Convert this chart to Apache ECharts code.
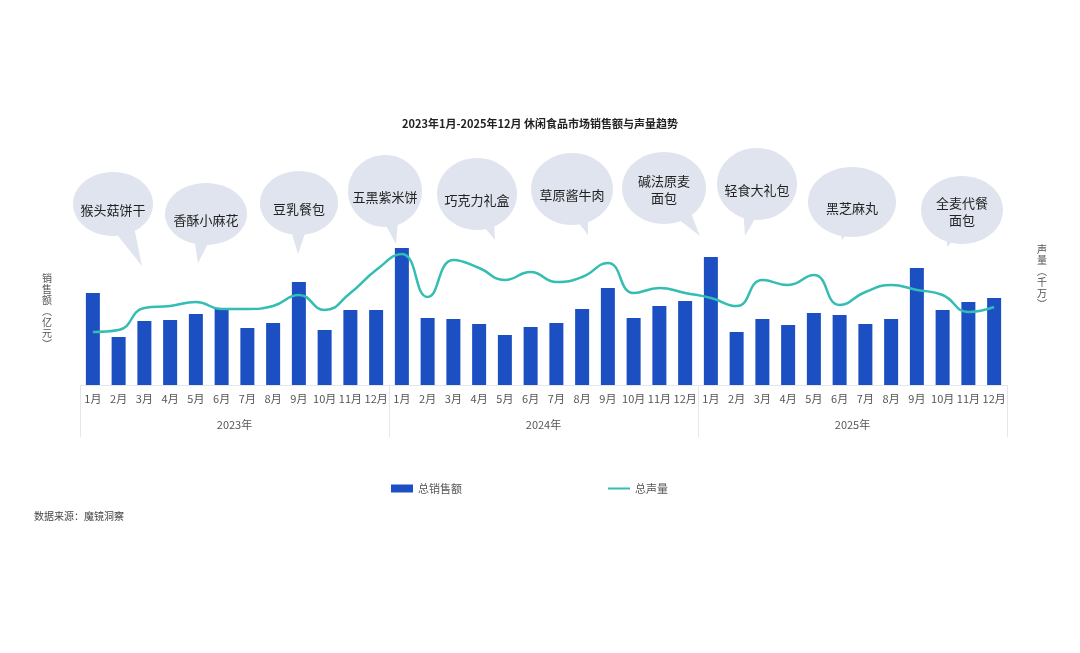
<!DOCTYPE html>
<html>
<head>
    <meta charset="utf-8">
    <title>休闲食品市场销售额与声量趋势</title>
    <script src="https://cdn.jsdelivr.net/npm/echarts@6.0.0/dist/echarts.min.js"></script>
    <style>
        html, body { margin: 0; padding: 0; background: #fff; }
        #main { width: 1080px; height: 653px; }
    </style>
</head>
<body>
<div id="main"></div>
<script type="text/javascript">
    // 月份 / 年份
    var months = ['1月','2月','3月','4月','5月','6月','7月','8月','9月','10月','11月','12月',
                  '1月','2月','3月','4月','5月','6月','7月','8月','9月','10月','11月','12月',
                  '1月','2月','3月','4月','5月','6月','7月','8月','9月','10月','11月','12月'];
    var years = ['2023年', '2024年', '2025年'];

    // 总销售额（亿元），读图估算
    var sales = [92, 48, 64, 65, 71, 76, 57, 62, 103, 55, 75, 75,
                 137, 67, 66, 61, 50, 58, 62, 76, 97, 67, 79, 84,
                 128, 53, 66, 60, 72, 70, 61, 66, 117, 75, 83, 87];

    // 总声量（千万），读图估算
    var volume = [53, 55, 77, 79, 83, 76, 76, 79, 90, 75, 92, 115,
                  131, 88, 125, 117, 105, 113, 103, 108, 122, 92, 97, 92,
                  87, 79, 105, 100, 110, 80, 93, 100, 95, 90, 73, 78];

    // 气泡里的产品名
    var bubbleTexts = ['猴头菇饼干', '香酥小麻花', '豆乳餐包', '五黑紫米饼', '巧克力礼盒',
                       '草原酱牛肉', '碱法原麦\n面包', '轻食大礼包', '黑芝麻丸', '全麦代餐\n面包'];

    var FONT = '"Noto Sans CJK SC", "Noto Sans", sans-serif';

    // 气泡位置：[cx, cy, rx, ry, 尾巴尖x, 尾巴尖y]
    var bubblePos = [
        [113, 204, 40, 32, 142, 266],
        [206, 214, 41, 31, 198, 263],
        [299, 203, 39, 32, 298, 254],
        [385, 191, 37, 36, 396, 244],
        [477, 194, 40, 36, 495, 240],
        [572, 189, 41, 36, 588, 235],
        [664, 188, 42, 36, 700, 236],
        [757, 184, 40, 36, 745, 236],
        [852, 202, 44, 35, 842, 240],
        [962, 210, 41, 34, 947, 247]
    ];

    var graphics = [];
    bubbleTexts.forEach(function (t, i) {
        var p = bubblePos[i];
        var cx = p[0], cy = p[1], rx = p[2], ry = p[3], tx = p[4], ty = p[5];
        // 尾巴底边放在椭圆内部
        var dx = tx - cx, dy = ty - cy;
        var len = Math.sqrt(dx * dx + dy * dy);
        var nx = -dy / len, ny = dx / len;
        var bx = cx + dx * 0.45, by = cy + dy * 0.45;
        graphics.push({
            type: 'polygon',
            z: 1,
            shape: { points: [[bx + nx * 9, by + ny * 9], [bx - nx * 9, by - ny * 9], [tx, ty]] },
            style: { fill: '#dfe4ee' }
        });
        graphics.push({
            type: 'ellipse',
            z: 1,
            shape: { cx: cx, cy: cy, rx: rx, ry: ry },
            style: { fill: '#dfe4ee' }
        });
        graphics.push({
            type: 'text',
            z: 2,
            x: cx,
            y: cy + (t.indexOf('\n') >= 0 ? 2 : 6),
            style: {
                text: t,
                fill: '#222',
                font: '13px ' + FONT,
                lineHeight: 17,
                align: 'center',
                verticalAlign: 'middle'
            }
        });
    });

    // 竖排轴名，一字一行
    function vertText(str, x, y0) {
        str.split('').forEach(function (ch, k) {
            graphics.push({
                type: 'text', x: x, y: y0 + k * 11,
                style: { text: ch, fill: '#555', font: '10px ' + FONT,
                         align: 'center', verticalAlign: 'middle' }
            });
        });
    }
    vertText('销售额︵亿元︶', 47, 278);
    vertText('声量︵千万︶', 1042, 249);

    // 标题
    graphics.push({
        type: 'text', left: 'center', top: 118,
        style: { text: '2023年1月-2025年12月 休闲食品市场销售额与声量趋势', fill: '#222',
                 font: 'bold 11px ' + FONT }
    });
    // 数据来源
    graphics.push({
        type: 'text', x: 34, y: 511,
        style: { text: '数据来源：魔镜洞察', fill: '#444', font: '10px ' + FONT }
    });

    var myChart = echarts.init(document.getElementById('main'));
    myChart.setOption({
        backgroundColor: '#fff',
        textStyle: { fontFamily: FONT },
        animation: false,
        grid: { left: 80, right: 73, top: 240, bottom: 268 },
        legend: {
            left: 386, top: 478,
            itemWidth: 22, itemHeight: 8, itemGap: 146,
            textStyle: { color: '#555', fontSize: 11 },
            data: [
                { name: '总销售额', icon: 'rect' },
                { name: '总声量', icon: 'path://M0,4 L22,4 L22,6 L0,6 Z' }
            ]
        },
        xAxis: [
            {
                type: 'category',
                data: months,
                position: 'bottom',
                axisLine: { lineStyle: { color: '#e3e6ea' } },
                axisTick: { show: false },
                axisLabel: { interval: 0, color: '#555', fontSize: 11, margin: 8 }
            },
            {
                type: 'category',
                data: years,
                position: 'bottom',
                axisLine: { show: false },
                axisTick: { show: true, length: 52, lineStyle: { color: '#e3e6ea' } },
                axisLabel: { color: '#555', fontSize: 11, margin: 34 }
            }
        ],
        yAxis: [
            { type: 'value', min: 0, max: 145, show: false, splitLine: { show: false } },
            { type: 'value', min: 0, max: 145, show: false, splitLine: { show: false } }
        ],
        graphic: graphics,
        series: [
            {
                name: '总销售额',
                type: 'bar',
                data: sales,
                barWidth: 14,
                yAxisIndex: 0,
                itemStyle: { color: '#1b4fc2' }
            },
            {
                name: '总声量',
                type: 'line',
                data: volume,
                yAxisIndex: 1,
                smooth: true,
                showSymbol: false,
                symbol: 'none',
                z: 3,
                lineStyle: { color: '#33bdb3', width: 2.5 },
                itemStyle: { color: '#33bdb3' }
            }
        ]
    });
</script>
</body>
</html>
